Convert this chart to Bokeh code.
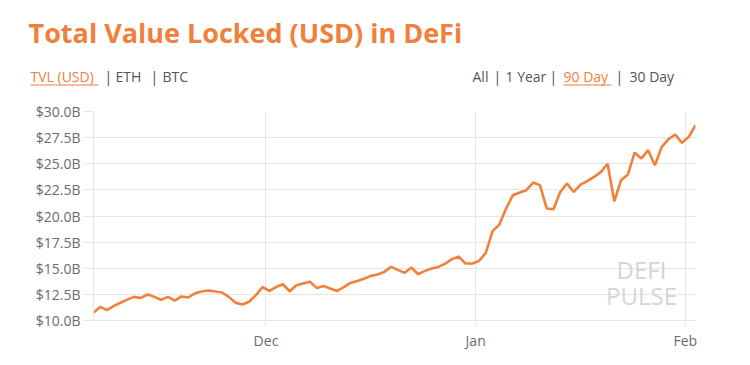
import pandas as pd
from bokeh.plotting import figure
from bokeh.layouts import column, row
from bokeh.models import (Range1d, FixedTicker, PrintfTickFormatter,
                          DatetimeTickFormatter, Label)
from bokeh.embed import file_html
from bokeh.resources import INLINE

# ---------------- data ----------------
start_date = "2020-11-05 12:00"
tvl_usd_billion = [
    10.77, 11.30, 10.99, 11.40, 11.70, 12.00, 12.26, 12.16, 12.49, 12.26,
    11.97, 12.26, 11.90, 12.30, 12.20, 12.60, 12.77, 12.87, 12.77, 12.68,
    12.26, 11.70, 11.53, 11.80, 12.42, 13.20, 12.83, 13.20, 13.47, 12.80,
    13.38, 13.54, 13.70, 13.12, 13.30, 13.06, 12.83, 13.20, 13.60, 13.79,
    14.00, 14.27, 14.40, 14.65, 15.13, 14.84, 14.56, 15.07, 14.43, 14.75,
    14.97, 15.13, 15.45, 15.87, 16.12, 15.45, 15.45, 15.70, 16.47, 18.55,
    19.18, 20.72, 21.99, 22.25, 22.47, 23.20, 22.95, 20.72, 20.65, 22.30,
    23.10, 22.30, 23.00, 23.33, 23.74, 24.20, 25.00, 21.40, 23.43, 23.97,
    26.07, 25.50, 26.30, 24.86, 26.60, 27.35, 27.80, 27.00, 27.57, 28.69,
]
y_ticks = [10.0, 12.5, 15.0, 17.5, 20.0, 22.5, 25.0, 27.5, 30.0]
x_tick_dates = ["2020-12-01", "2021-01-01", "2021-02-01"]
x_tick_labels = ["Dec", "Jan", "Feb"]

title_text = "Total Value Locked (USD) in DeFi"
left_menu = ["TVL (USD)", "|", "ETH", "|", "BTC"]
right_menu = ["All", "|", "1 Year", "|", "90 Day", "|", "30 Day"]
watermark = ["DEFI", "PULSE"]

dates = pd.date_range(start_date, periods=len(tvl_usd_billion), freq="D")

ORANGE = "#f0803c"
GRID = "#e6e6e6"
FONT = "Open Sans"
DARK = "#555555"
SEP = "#54465f"

W = 750
HEAD_H = 95

# ---------------- header (title + menus) ----------------
h = figure(width=W, height=HEAD_H, output_backend="svg", toolbar_location=None,
           title=None,
           x_range=Range1d(0, W), y_range=Range1d(HEAD_H, 0),
           x_axis_location=None, y_axis_location=None,
           min_border=0, min_border_left=0, min_border_right=0,
           min_border_top=0, min_border_bottom=0)
h.outline_line_color = None
h.grid.visible = False
h.border_fill_color = "white"

h.add_layout(Label(x=28, y=32, text=title_text, text_font=FONT,
                   text_font_style="bold", text_font_size="27px",
                   text_color=ORANGE, text_baseline="alphabetic"))

MENU_Y = 75.5
left_x = [30, 104, 115, 150, 162]
left_col = [ORANGE, SEP, DARK, SEP, DARK]
for t, x, c in zip(left_menu, left_x, left_col):
    h.add_layout(Label(x=x, y=MENU_Y, text=t, text_font=FONT, text_font_size="14px",
                       text_color=c, text_baseline="alphabetic"))

right_x = [472, 493, 505, 549, 563, 615, 629]
right_col = [DARK, SEP, DARK, SEP, ORANGE, SEP, DARK]
for t, x, c in zip(right_menu, right_x, right_col):
    h.add_layout(Label(x=x, y=MENU_Y, text=t, text_font=FONT, text_font_size="14px",
                       text_color=c, text_baseline="alphabetic"))

h.segment(x0=[30, 563], y0=[84.5, 84.5], x1=[98, 611], y1=[84.5, 84.5],
          line_color=ORANGE, line_width=1.2)

# ---------------- chart ----------------
p = figure(width=W, height=365 - HEAD_H, x_axis_type="datetime",
           output_backend="svg", toolbar_location=None, title=None,
           x_range=Range1d(dates[0], dates[-1]), y_range=Range1d(10, 30),
           min_border_left=93, min_border_right=55,
           min_border_top=111 - HEAD_H, min_border_bottom=45)
p.outline_line_color = None
p.background_fill_color = "white"
p.border_fill_color = "white"

p.line(dates, tvl_usd_billion, line_color=ORANGE, line_width=2.6)

# y axis
p.yaxis.ticker = FixedTicker(ticks=y_ticks)
p.yaxis.formatter = PrintfTickFormatter(format="$%.1fB")
p.yaxis.major_tick_out = 10
p.yaxis.major_tick_in = 0
p.yaxis.minor_tick_line_color = None
p.yaxis.major_tick_line_color = GRID
p.yaxis.axis_line_color = GRID
p.yaxis.major_label_standoff = 3
p.yaxis.major_label_text_font = FONT
p.yaxis.major_label_text_font_size = "14px"
p.yaxis.major_label_text_color = "#6b6b6b"

# x axis
x_ticks_ms = [pd.Timestamp(d).value / 1e6 for d in x_tick_dates]
p.xaxis.ticker = FixedTicker(ticks=x_ticks_ms)
p.xaxis.formatter = DatetimeTickFormatter(days="%b", months="%b", years="%b",
                                          hours="%b", hourmin="%b")
p.xaxis.major_label_overrides = {t: lab for t, lab in zip(x_ticks_ms, x_tick_labels)}
p.xaxis.major_tick_out = 5
p.xaxis.major_tick_in = 0
p.xaxis.minor_tick_line_color = None
p.xaxis.major_tick_line_color = GRID
p.xaxis.axis_line_color = GRID
p.xaxis.major_label_standoff = 5
p.xaxis.major_label_text_font = FONT
p.xaxis.major_label_text_font_size = "14px"
p.xaxis.major_label_text_color = "#6b6b6b"

p.xgrid.ticker = p.xaxis.ticker
p.ygrid.ticker = p.yaxis.ticker
p.grid.grid_line_color = GRID
p.grid.grid_line_width = 1

# watermark (screen units, relative to frame bottom-left)
FL, FB = 93, 320
for t, yb in zip(watermark, [268.5, 294.5]):
    p.add_layout(Label(x=641 - FL, y=FB - yb, x_units="screen", y_units="screen",
                       text=t, text_font=FONT, text_font_size="24px",
                       text_color="#d4d4dc", text_align="center",
                       text_baseline="alphabetic"))

layout = column(row(h), p, spacing=0)
open("out.html", "w").write(file_html(layout, INLINE))
